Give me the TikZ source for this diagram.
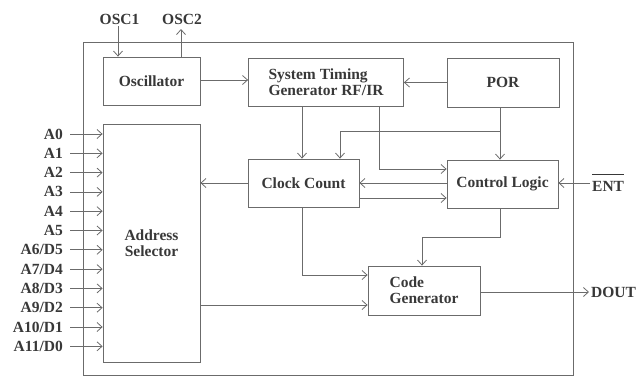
\documentclass[tikz,border=0pt]{standalone}
\usepackage{fontspec}
\setmainfont{Liberation Serif}
\usetikzlibrary{arrows.meta,calc}
\definecolor{linec}{gray}{0.42}
\definecolor{textc}{gray}{0.22}
\begin{document}
\begin{tikzpicture}[x=1pt,y=-1pt,
  every node/.style={font=\fontsize{15.5}{16}\selectfont\bfseries, text=textc},
  blk/.style={draw=linec, line width=0.8pt, inner sep=0pt},
  arr/.style={draw=linec, line width=0.8pt, -{Straight Barb[length=5pt,width=9pt]}},
  ln/.style={draw=linec, line width=0.8pt},
  lbl/.style={inner sep=2pt}]
\useasboundingbox (0,0) rectangle (637,376);
% outer chip frame
\draw[ln] (83,42) rectangle (573,375);
% blocks
\node[blk, minimum width=97pt, minimum height=48pt] (osc) at (151.5,81) {Oscillator};
\node[blk, minimum width=155pt, minimum height=48pt, align=left] (sys) at (326,82) {System Timing\\Generator RF/IR};
\node[blk, minimum width=112pt, minimum height=49pt] (por) at (503,82.5) {POR};
\node[blk, minimum width=97pt, minimum height=238pt, align=center] (addr) at (151.5,243) {Address\\Selector};
\node[blk, minimum width=111pt, minimum height=48pt] (clk) at (303.5,183) {Clock Count};
\node[blk, minimum width=111pt, minimum height=48pt] (ctl) at (502.5,184) {Control Logic};
\node[blk, minimum width=112pt, minimum height=49pt, align=left] (code) at (424,290.5) {Code\\Generator};
% external labels
\node[lbl] (osc1) at (119.5,19) {OSC1};
\node[lbl] (osc2) at (182,19) {OSC2};
\node[lbl, anchor=west] (ent) at (590,186) {ENT};
\coordinate (entL) at ($(ent.west)+(2,-11.5)$);
\coordinate (entR) at ($(ent.east)+(-2,-11.5)$);
\draw[draw=textc, line width=1.3pt] (entL) -- (entR);
\node[lbl, anchor=west] (dout) at (589,292) {DOUT};
% oscillator pins
\draw[arr] (osc1.south -| 118,0) -- (118,0 |- osc.north);
\draw[arr] (181,0 |- osc.north) -- (181,29);
% internal connections
\draw[arr] (osc.east |- 0,80) -- (sys.west |- 0,80);
\draw[arr] (por.west) -- (sys.east |- por.west);
\draw[arr] (sys.south -| 302,0) -- (302,0 |- clk.north);
\draw[arr] (sys.south -| 379,0) |- (ctl.west |- 0,169);
\draw[arr] (por.south -| 500,0) -- (500,0 |- ctl.north);
\coordinate (br) at (500,131);
\draw[arr] (br) -| (340,0 |- clk.north);
\draw[arr] (ctl.west |- 0,183) -- (clk.east |- 0,183);
\draw[arr] (clk.east |- 0,198) -- (ctl.west |- 0,198);
\draw[arr] (clk.west) -- (addr.east |- clk.west);
\draw[arr] (clk.south -| 302,0) |- (code.west |- 0,275);
\draw[arr] (ctl.south -| 500,0) -- (500,237) -| (422,0 |- code.north);
\draw[arr] (addr.east |- 0,305) -- (code.west |- 0,305);
\draw[arr] (code.east |- 0,292) -- (dout.west);
\draw[arr] (ent.west |- 0,183) -- (ctl.east |- 0,183);
% address pins
\foreach \t [count=\i from 0] in {A0,A1,A2,A3,A4,A5,A6/D5,A7/D4,A8/D3,A9/D2,A10/D1,A11/D0}{
  \node[lbl, anchor=east] (p\i) at (65,134+19.3*\i) {\t};
  \draw[arr] (70,134+19.3*\i) -- (addr.west |- p\i.east);
}
\end{tikzpicture}
\end{document}
